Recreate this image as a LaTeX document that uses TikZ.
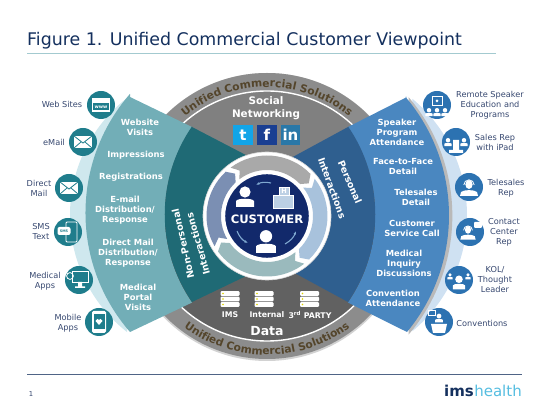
\documentclass[tikz,border=0pt]{standalone}
\usepackage{fontspec}
\setmainfont{DejaVu Sans}
\usepackage{xcolor}
\usetikzlibrary{arrows.meta, positioning, calc, decorations.text}
\definecolor{navy}{HTML}{14305E}
\definecolor{sideTxt}{HTML}{36476F}
\definecolor{ringTxt}{HTML}{54452B}
\definecolor{tealMid}{HTML}{72AEB7}
\definecolor{tealDark}{HTML}{1F6A75}
\definecolor{tealIcon}{HTML}{1F7D8C}
\definecolor{tealPale}{HTML}{CFE8EE}
\definecolor{blueMid}{HTML}{4A87C0}
\definecolor{blueDark}{HTML}{2F5F8F}
\definecolor{blueIcon}{HTML}{2C72B1}
\definecolor{bluePale}{HTML}{CFE1F2}
\definecolor{custDisc}{HTML}{12296B}
\definecolor{cycGrey}{HTML}{A9A9A9}
\definecolor{cycBlue}{HTML}{A8C2DC}
\definecolor{cycTeal}{HTML}{9ABABD}
\definecolor{cycSlate}{HTML}{7B8FB3}
\definecolor{arrowBlue}{HTML}{7FA8D0}
\definecolor{hospBlue}{HTML}{BCD0E4}
\definecolor{twBlue}{HTML}{12A5E8}
\definecolor{fbBlue}{HTML}{1A3F92}
\definecolor{inBlue}{HTML}{2A78A8}
\definecolor{logoBlue}{HTML}{55BDE0}
% one band of the cycle round the customer: colour, start angle, end angle
\newcommand{\cyclearc}[3]{
  \fill[#1] ([shift={(#2:60.5)}]O) arc[start angle=#2, end angle=#3+6, radius=60.5]
    -- ([shift={(#3:53)}]O) -- ([shift={(#3+6:46)}]O)
    arc[start angle=#3+6, end angle=#2, radius=46] -- ([shift={(#2-6:53)}]O) -- cycle;
}
\tikzset{
  x=1pt, y=1pt,
  secLab/.style={align=center, text=white, inner sep=0pt, font=\fontsize{8.4}{10}\selectfont\bfseries},
  sideLab/.style={align=center, text=sideTxt, inner sep=0pt, font=\fontsize{8.2}{10}\selectfont},
  arcLab/.style={align=center, text=white, inner sep=0pt, font=\fontsize{9.4}{13}\selectfont\bfseries},
  iconBall/.style={circle, minimum size=28pt, inner sep=0pt},
  tealBall/.style={iconBall, fill=tealIcon},
  blueBall/.style={iconBall, fill=blueIcon},
  social/.style={minimum width=19.5pt, minimum height=20pt, inner sep=0pt, text=white, font=\fontsize{15}{15}\selectfont\bfseries},
  smallArr/.style={-{Latex[length=3.5pt]}, line width=1.1pt, color=arrowBlue},
  pics/person/.style={code={
    \fill[#1] (0,3.5) circle (2.8);
    \fill[#1] (-4.5,-4) -- (-4.5,-1) .. controls (-4,0.5) and (4,0.5) .. (4.5,-1) -- (4.5,-4) -- cycle;
  }},
  pics/envelope/.style={code={
    \fill[white] (-9,-6) rectangle (9,6);
    \draw[#1, line width=0.8pt] (-9,6) -- (0,-1) -- (9,6) (-9,-6) -- (-2,0) (9,-6) -- (2,0);
  }},
  pics/server/.style={code={
    \foreach \yy in {5.5,0,-5.5}{
      \fill[white, rounded corners=1pt] (-9.5,\yy-2.3) rectangle (9.5,\yy+2.3);
      \fill[yellow!70!olive] (-7,\yy) circle (0.8);
    }
  }},
  pics/headset/.style={code={
    \fill[white] (0,2.5) ellipse (3.6 and 4.5);
    \draw[white, line width=0.8pt] (-5.2,2) arc[start angle=180, end angle=0, radius=5.2];
    \fill[white] (-9,-9) -- (-8,-5) .. controls (-5,-2.5) and (5,-2.5) .. (8,-5) -- (9,-9) -- cycle;
  }}
}
\begin{document}
\begin{tikzpicture}
\useasboundingbox (0,0) rectangle (550,412);
\coordinate (O) at (267,196);

% heading
\node[anchor=base west, inner sep=0pt, text=navy, font=\fontsize{17.4}{20}\selectfont] (title) at (27,366) {Figure 1. Unified Commercial Customer Viewpoint};
\coordinate (ruleA) at (27,358.5);
\coordinate (ruleB) at (496,358.5);
\draw[color=tealMid!65, line width=1pt] (ruleA) -- (ruleB);

% the grey wheel
\fill[gray!35] (267,195) circle (144);
\fill[color=black!45] (O) circle (143);
\fill[color=black!50] (O) ++(125,0) arc[start angle=0, end angle=180, radius=125] -- cycle;
\fill[color=black!62] (O) ++(125,0) arc[start angle=0, end angle=-180, radius=125] -- cycle;
\draw[white, line width=1.4pt] (O) circle (125);
\path[decorate, decoration={text along path, text align=center,
    text={|\fontsize{10.7}{11}\selectfont\bfseries\color{ringTxt}|Unified Commercial Solutions}}]
  ([shift={(140:129)}]O) arc[start angle=140, end angle=40, radius=129];
\path[decorate, decoration={text along path, text align=center,
    text={|\fontsize{10.7}{11}\selectfont\bfseries\color{ringTxt}|Unified Commercial Solutions}}]
  ([shift={(220:139)}]O) arc[start angle=220, end angle=320, radius=139];

% left fan
\fill[tealPale] (218.6,197) ++(128:148.6) arc[start angle=128, end angle=232, radius=148.6] -- cycle;
\fill[tealMid] (130,315) -- (192,285) arc[start angle=145.5, end angle=214.5, radius=155]
  -- (130,80) arc[start angle=221, end angle=139, radius=181.5] -- cycle;
\fill[tealDark] (192,285) -- (267,246) -- (267,146) -- (192,110)
  arc[start angle=214.5, end angle=145.5, radius=155] -- cycle;

% right fan
\fill[bluePale] (316,197) ++(50.3:151) arc[start angle=50.3, end angle=-50.3, radius=151] -- cycle;
\fill[gray!55] (408.5,315) arc[start angle=40.5, end angle=-40.5, radius=183] -- cycle;
\fill[blueMid] (407,315) -- (348,285) arc[start angle=34.5, end angle=-34.5, radius=155]
  -- (407,80) arc[start angle=-39.6, end angle=40.4, radius=183] -- cycle;
\fill[blueDark] (348,285) -- (267,241) -- (267,154) -- (348,110)
  arc[start angle=-34.5, end angle=34.5, radius=155] -- cycle;

% centre
\fill[white] (O) circle (64);
\draw[gray!30, line width=0.6pt] (O) circle (64);
\cyclearc{cycGrey}{127}{38}
\cyclearc{cycBlue}{38}{-52}
\cyclearc{cycTeal}{-52}{-150}
\cyclearc{cycSlate}{-150}{-233}
\node[circle, fill=custDisc, draw=white, line width=1.4pt, minimum size=85pt, inner sep=0pt] (cust) at (O) {};
\node[inner sep=0pt, text=white, font=\fontsize{11.6}{12}\selectfont\bfseries] (custLab) at (267,193) {CUSTOMER};
\pic[scale=2] at (245,213) {person=white};
\pic[scale=2.2] at (266,168) {person=white};
\node[draw=white, fill=hospBlue, minimum width=20pt, minimum height=13pt, inner sep=0pt] (hosp) at (283,210.5) {};
\node[draw=white, fill=hospBlue, text=white, minimum width=10pt, minimum height=8pt, inner sep=0pt, font=\fontsize{6.5}{6.5}\selectfont\bfseries] (hospH) at (284,221) {H};
\coordinate (a1) at (271,229); \coordinate (a2) at (256,227);
\coordinate (a3) at (237,181); \coordinate (a4) at (248,169);
\coordinate (a5) at (285,168); \coordinate (a6) at (296,181);
\draw[smallArr] (a1) to[bend right=20] (a2);
\draw[smallArr] (a3) to[bend right=20] (a4);
\draw[smallArr] (a5) to[bend right=20] (a6);

% social networking and data
\node[arcLab, font=\fontsize{10.4}{13.5}\selectfont\bfseries] (socialLab) at (266,304) {Social\\Networking};
\node[social, fill=twBlue] (twitter) at (243,277) {t};
\node[social, fill=fbBlue] (facebook) at (267,277) {f};
\node[social, fill=inBlue] (linkedin) at (290.5,277) {in};
\pic at (230,113) {server};
\pic at (264,113) {server};
\pic at (309.5,113) {server};
\node[secLab, font=\fontsize{7.8}{10}\selectfont\bfseries] (imsLab) at (230,97) {IMS};
\node[secLab, font=\fontsize{7.8}{10}\selectfont\bfseries] (internalLab) at (267,97) {Internal};
\node[secLab, font=\fontsize{7.8}{10}\selectfont\bfseries] (thirdLab) at (310,97) {3\textsuperscript{rd} PARTY};
\node[arcLab, font=\fontsize{12.5}{13}\selectfont\bfseries] (dataLab) at (267,81) {Data};

% fan captions
\node[arcLab, rotate=103] (nonPers) at (183,168) {Non-Personal};
\node[arcLab, rotate=106] (nonInter) at (198,168) {Interactions};
\node[arcLab, rotate=-67] (persLab) at (350,230) {Personal};
\node[arcLab, rotate=-70] (persInter) at (332,224) {Interactions};

% left fan text
\node[secLab] (webVisits) at (140,285) {Website\\Visits};
\node[secLab] (impress) at (136,257) {Impressions};
\node[secLab] (regist) at (131,235) {Registrations};
\node[secLab] (emailDist) at (125,202) {E-mail\\Distribution/\\Response};
\node[secLab] (mailDist) at (128,159) {Direct Mail\\Distribution/\\Response};
\node[secLab] (portal) at (138,115) {Medical\\Portal\\Visits};

% right fan text
\node[secLab] (spkAtt) at (397,280) {Speaker\\Program\\Attendance};
\node[secLab] (f2f) at (403,245) {Face-to-Face\\Detail};
\node[secLab] (teleDet) at (416,215) {Telesales\\Detail};
\node[secLab] (custCall) at (412,184) {Customer\\Service Call};
\node[secLab] (inquiry) at (404,149) {Medical\\Inquiry\\Discussions};
\node[secLab] (convAtt) at (393,114) {Convention\\Attendance};

% left icons
\node[tealBall] (webIcon) at (101,307) {};
\fill[white] (92,300) rectangle (110,314);
\node[fill=tealIcon, text=white, minimum width=16pt, minimum height=7pt, inner sep=0pt, font=\fontsize{4.6}{5}\selectfont\bfseries] (wwwLab) at (101,305) {www};
\node[tealBall] (mailIcon) at (83,270) {};
\pic at (83,270) {envelope=tealIcon};
\node[tealBall] (postIcon) at (69,224) {};
\pic at (69,224) {envelope=tealIcon};
\node[tealBall] (smsIcon) at (68,180) {};
\draw[white, line width=0.9pt, rounded corners=1pt] (66,170) rectangle (77,190);
\node[fill=white, text=tealIcon, rounded corners=2pt, minimum width=13pt, minimum height=8pt, inner sep=0pt, font=\fontsize{3.4}{4}\selectfont\bfseries] (smsLab) at (64,181) {SMS};
\node[tealBall] (appIcon) at (79,132) {};
\draw[white, line width=0.9pt] (72,130) rectangle (88,141);
\fill[white] (78,125) rectangle (82,130) (75,124) rectangle (85,125.5);
\draw[white, line width=0.8pt] (70,136) circle (3.4);
\node[tealBall] (mobIcon) at (99,90) {};
\fill[white, rounded corners=1.5pt] (92,79) rectangle (106,101);
\fill[tealIcon] (93.5,83) rectangle (104.5,98);
\fill[white] (99,87) -- (95.5,91) -- (97.5,93) -- (99,92) -- (100.5,93) -- (102.5,91) -- cycle;

\node[sideLab] (webLab) at (62,308) {Web Sites};
\node[sideLab] (mailLab) at (54,270) {eMail};
\node[sideLab] (postLab) at (39,224) {Direct\\Mail};
\node[sideLab] (textLab) at (41,180) {SMS\\Text};
\node[sideLab] (appLab) at (45,131) {Medical\\Apps};
\node[sideLab] (mobLab) at (68,89) {Mobile\\Apps};

% right icons
\node[blueBall] (rmtIcon) at (437,307) {};
\draw[white, line width=0.7pt] (432,307) rectangle (442,316);
\pic[scale=0.8] at (429,299) {person=white};
\pic[scale=0.8] at (437,299) {person=white};
\pic[scale=0.8] at (445,299) {person=white};
\fill[white] (437,311) circle (1.5);
\node[blueBall] (repIcon) at (456,270) {};
\pic[scale=0.8] at (448,269) {person=white};
\pic[scale=0.8] at (464,269) {person=white};
\fill[white] (449,259) rectangle (463,262) (453,262) rectangle (459,272);
\node[blueBall] (teleIcon) at (469,225) {};
\pic at (469,225) {headset};
\node[blueBall] (cntIcon) at (470,180) {};
\pic[scale=0.85] at (468,180) {headset};
\fill[white, rounded corners=1pt] (474,184) rectangle (482,190);
\node[blueBall] (kolIcon) at (459,132) {};
\pic[scale=1.35] at (459,128) {person=white};
\pic[scale=0.6] at (450,135) {person=white};
\pic[scale=0.6] at (468,135) {person=white};
\node[blueBall] (cvnIcon) at (439,90) {};
\pic[scale=0.85] at (439,93) {person=white};
\fill[white] (433,79) -- (445,79) -- (447,88) -- (431,88) -- cycle;
\draw[white, line width=0.6pt] (428,97) rectangle (435,102);

\node[sideLab] (rmtLab) at (490,307) {Remote Speaker\\Education and\\Programs};
\node[sideLab] (repLab) at (495,270) {Sales Rep\\with iPad};
\node[sideLab] (teleLab) at (506,224) {Telesales\\Rep};
\node[sideLab] (cntLab) at (504,180) {Contact\\Center\\Rep};
\node[sideLab] (kolLab) at (495,132) {KOL/\\Thought\\Leader};
\node[sideLab] (cvnLab) at (482,89) {Conventions};

% footer
\coordinate (footA) at (27,37);
\coordinate (footB) at (522,37);
\draw[color=navy!75, line width=1pt] (footA) -- (footB);
\node[text=sideTxt, inner sep=0pt, font=\fontsize{6.8}{7}\selectfont] (pageNo) at (31,18) {1};
\node[anchor=base east, inner sep=0pt, text=logoBlue, font=\fontsize{15}{16}\selectfont] (logoB) at (522,15) {health};
\node[inner sep=0pt, text=navy, font=\fontsize{15}{16}\selectfont\bfseries, left=0pt of logoB.base west, anchor=base east] (logoA) {ims};
\end{tikzpicture}
\end{document}
